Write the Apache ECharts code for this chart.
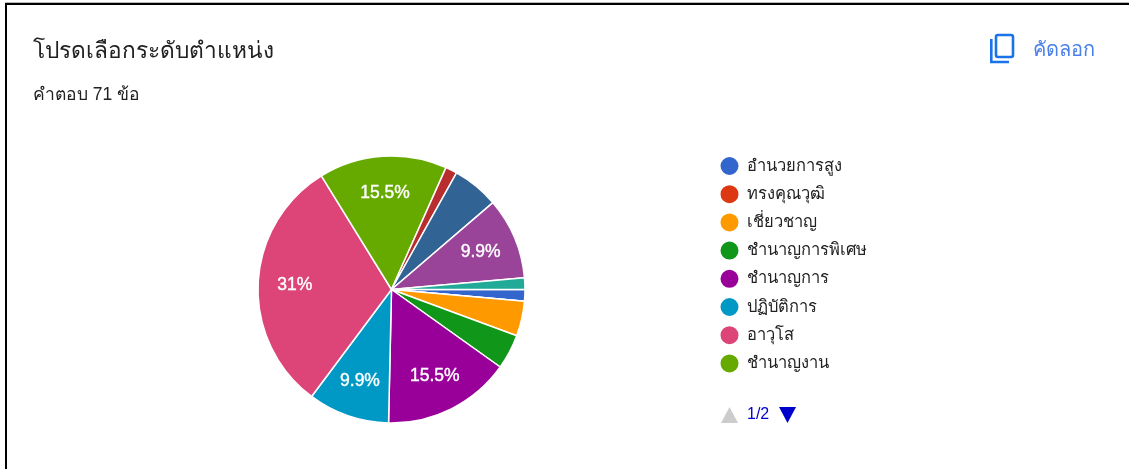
<!DOCTYPE html>
<html><head><meta charset="utf-8">
<style>
html,body{margin:0;padding:0;background:#fff;width:1129px;height:469px;overflow:hidden}
#c{position:absolute;left:0;top:0;width:1129px;height:469px}
</style>
<script src="https://cdn.jsdelivr.net/npm/echarts@6/dist/echarts.min.js"></script>
</head><body><div id="c"></div>
<script>
const categories = ['อำนวยการสูง','ทรงคุณวุฒิ','เชี่ยวชาญ','ชำนาญการพิเศษ','ชำนาญการ','ปฏิบัติการ','อาวุโส','ชำนาญงาน','ครูผู้ช่วย','ครู','ครูชำนาญการ','อื่น ๆ'];
const counts = [1,0,3,3,11,7,22,11,1,4,7,1];
const colors = ['#3366cc','#dc3912','#ff9900','#109618','#990099','#0099c6','#dd4477','#66aa00','#b82e2e','#316395','#994499','#22aa99'];
const legendPageOne = categories.slice(0,8);
const titleText = 'โปรดเลือกระดับตำแหน่ง';
const subtitleText = 'คำตอบ 71 ข้อ';
const copyText = 'คัดลอก';
const pagerText = '1/2';
const total = counts.reduce((a,b)=>a+b,0);
const FONT = '"Liberation Sans", Arial, "Noto Sans", sans-serif';
const chart = echarts.init(document.getElementById('c'));
chart.setOption({
  animation:false,
  color:colors,
  textStyle:{fontFamily:FONT},
  title:[
    {text:titleText,left:28,top:35,textStyle:{fontSize:22.7,fontWeight:'normal',color:'#212121',fontFamily:FONT}},
    {text:subtitleText,left:28,top:81,textStyle:{fontSize:17.5,fontWeight:'normal',color:'#212121',fontFamily:FONT}},
    {text:copyText,left:1028,top:35,textStyle:{fontSize:20,fontWeight:'normal',color:'#4a80e8',fontFamily:FONT}}
  ],
  legend:{
    type:'plain',orient:'vertical',left:718.5,top:155,
    icon:'circle',itemWidth:21,itemHeight:20,itemGap:6.2,
    textStyle:{fontSize:16.5,lineHeight:20,height:20,color:'#222',padding:[0,0,0,1.5]},
    padding:0,
    data:legendPageOne
  },
  series:[{
    type:'pie',center:[391.5,289.5],radius:[0,133.5],startAngle:0,clockwise:true,
    minAngle:0,avoidLabelOverlap:false,stillShowZeroSum:true,
    itemStyle:{borderColor:'#fff',borderWidth:1.5},
    label:{
      show:true,position:'inside',color:'#fff',fontSize:17.5,fontWeight:'normal',fontFamily:FONT,
      textBorderColor:'#fff',textBorderWidth:0.4,
      formatter:p=>p.value>=7?(+(p.value/total*100).toFixed(1))+'%':''
    },
    labelLine:{show:false},
    labelLayout:p=>{
      let cum=0;for(let i=0;i<p.dataIndex;i++)cum+=counts[i];
      const mid=(cum+counts[p.dataIndex]/2)/total*2*Math.PI;
      return {dx:Math.cos(mid)*27,dy:Math.sin(mid)*27};
    },
    data:categories.map((n,i)=>({name:n,value:counts[i]}))
  }],
  graphic:[
    {type:'rect',silent:true,shape:{x:996,y:35,width:17,height:22,r:2},style:{fill:'none',stroke:'#1a73e8',lineWidth:2.6}},
    {type:'polyline',silent:true,shape:{points:[[991.3,39],[991.3,62],[1009,62]]},style:{fill:'none',stroke:'#1a73e8',lineWidth:2.6}},
    {type:'polygon',silent:true,shape:{points:[[729.5,407],[738,423],[721,423]]},style:{fill:'#cccccc'}},
    {type:'polygon',silent:true,shape:{points:[[779,407],[796,407],[787.5,423]]},style:{fill:'#0000cc'}},
    {type:'text',silent:true,x:747,y:415,style:{text:pagerText,fill:'#0000cc',font:'16px "Liberation Sans", Arial, sans-serif',verticalAlign:'middle'}},
    {type:'line',silent:true,shape:{x1:5,y1:2.5,x2:1129,y2:2.5},style:{stroke:'#bbb',lineWidth:1}},
    {type:'line',silent:true,shape:{x1:5,y1:4,x2:1129,y2:4},style:{stroke:'#000',lineWidth:2}},
    {type:'line',silent:true,shape:{x1:6,y1:3,x2:6,y2:469},style:{stroke:'#000',lineWidth:2}}
  ]
});
</script></body></html>
